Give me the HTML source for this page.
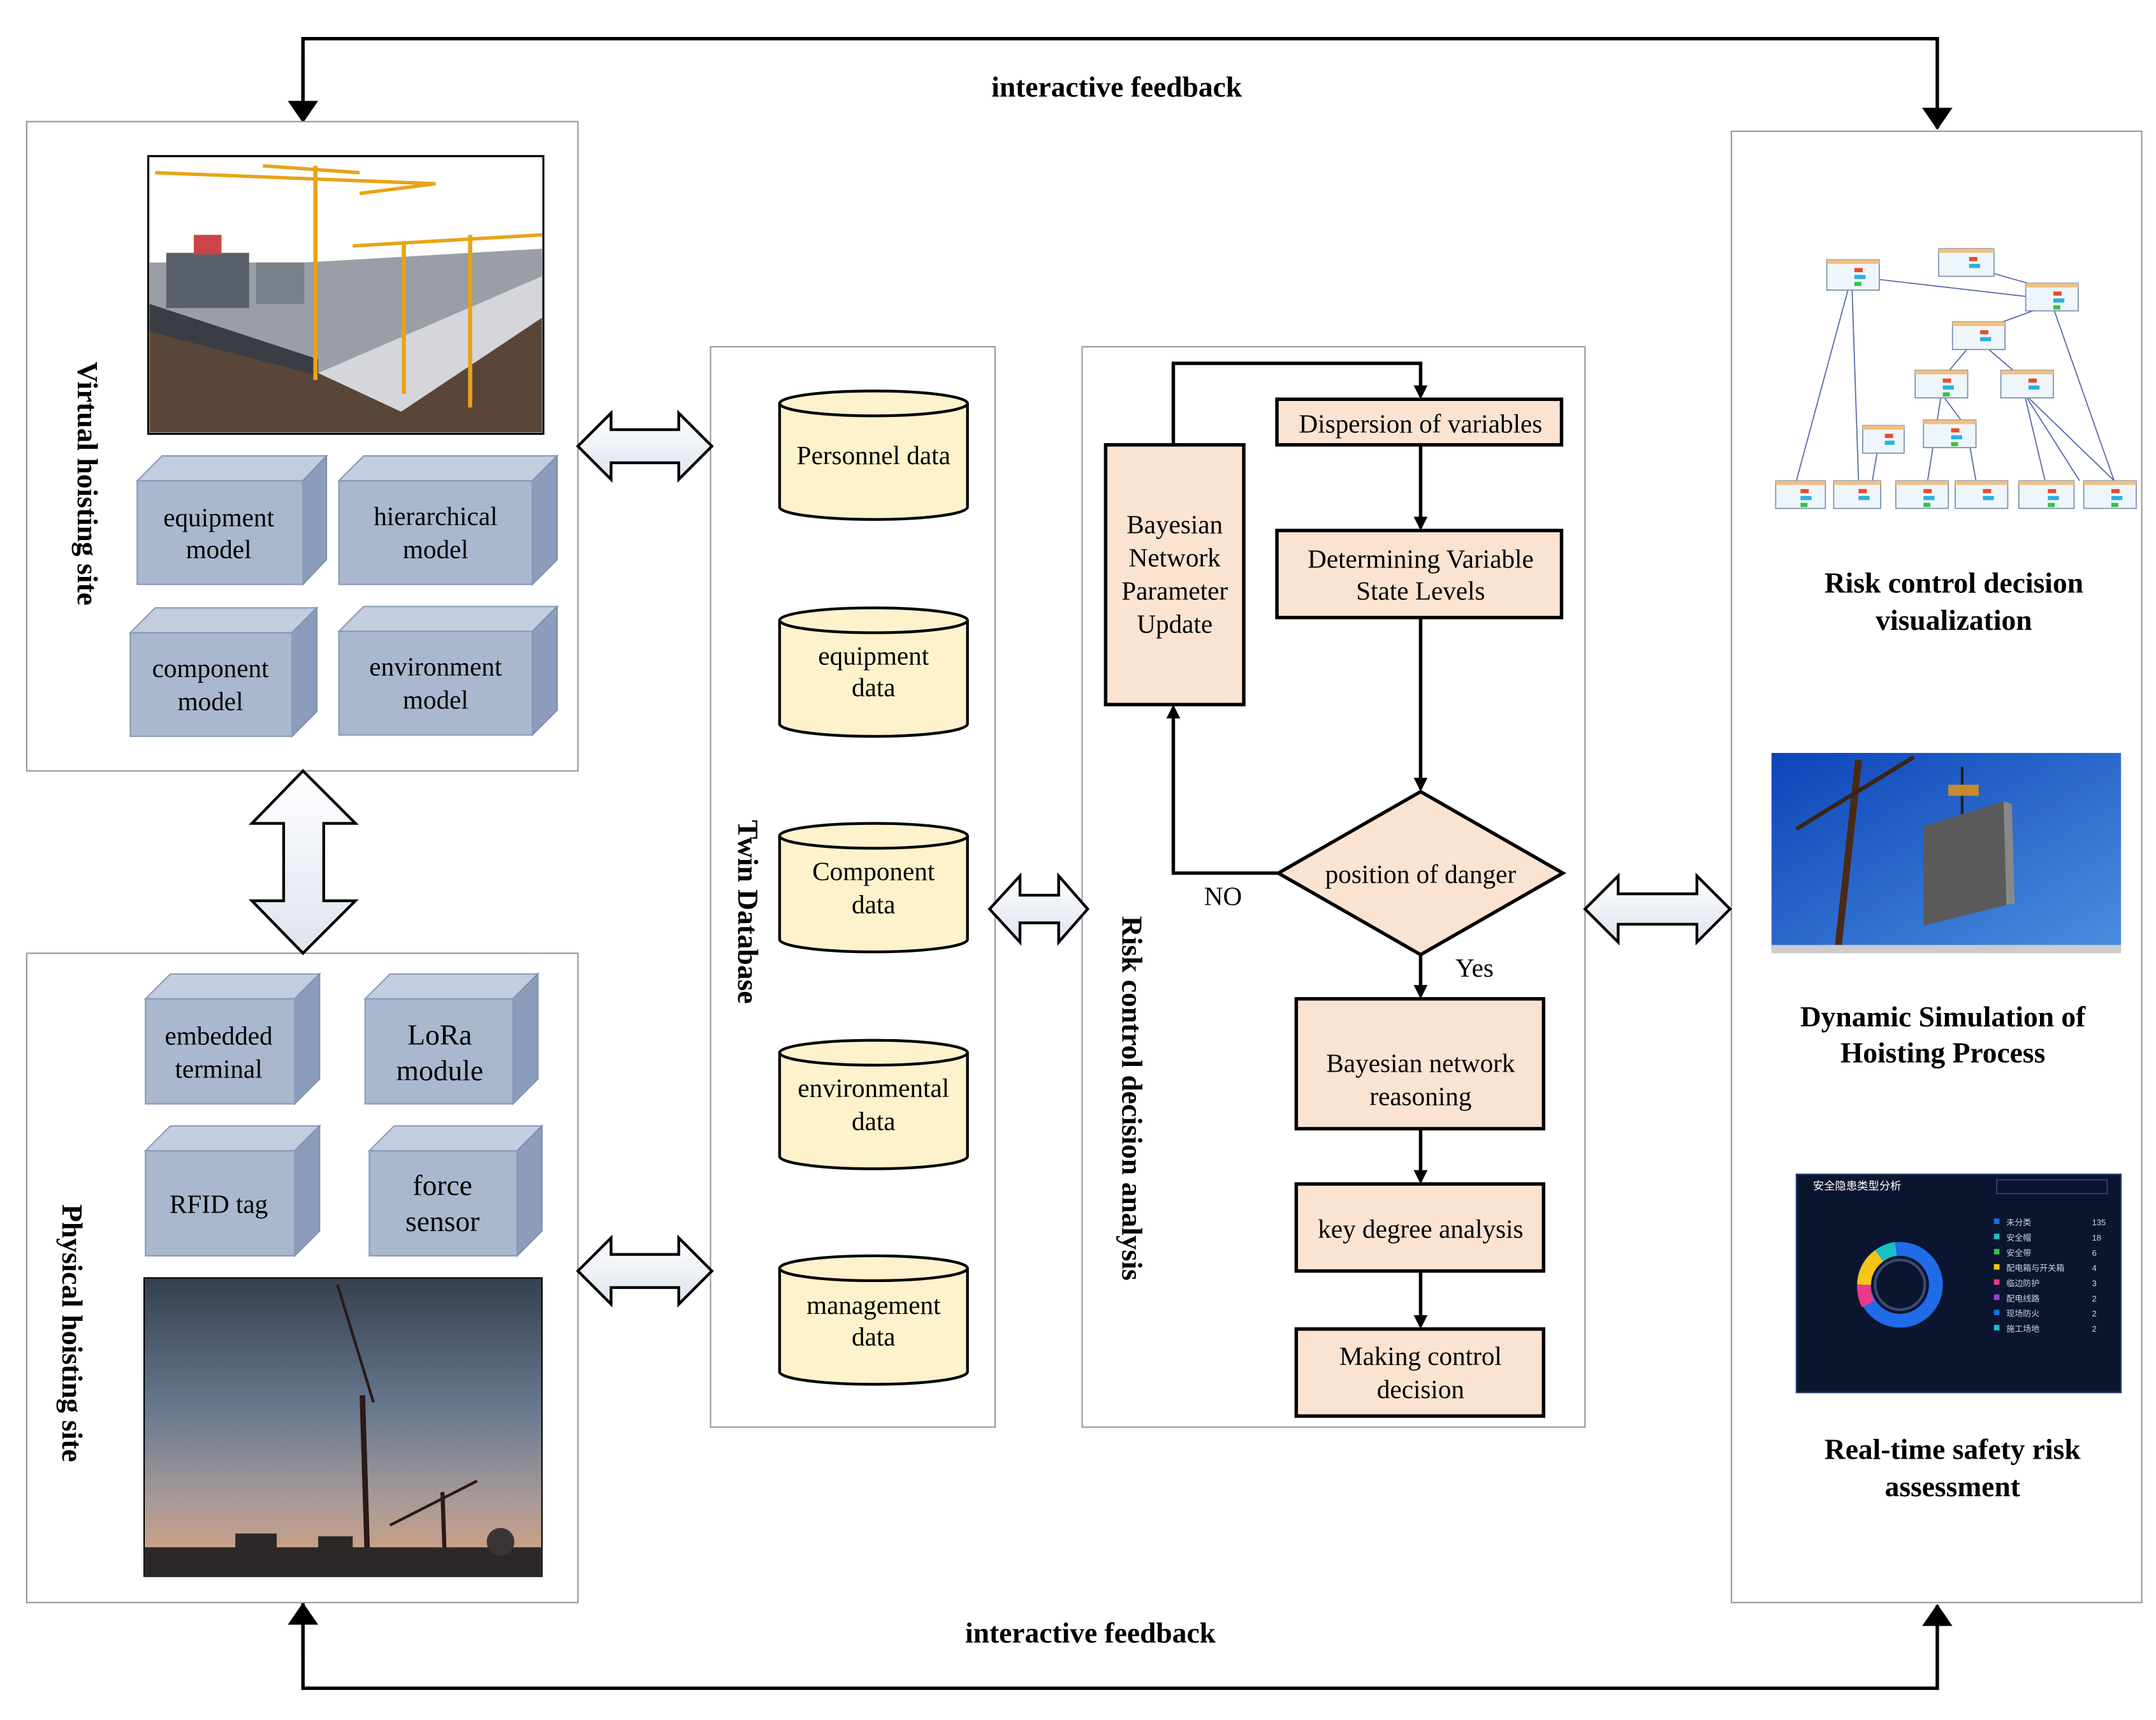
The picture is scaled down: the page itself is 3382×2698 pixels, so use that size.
<!DOCTYPE html>
<html><head><meta charset="utf-8"><style>html,body{margin:0;padding:0;background:#fff}svg{display:block}</style></head>
<body>
<svg xmlns="http://www.w3.org/2000/svg" width="3382" height="2698" viewBox="0 0 1560 1245" font-family="'Liberation Serif', serif">
<defs>
<marker id="ah" markerWidth="10" markerHeight="10" refX="8" refY="5" orient="auto" markerUnits="userSpaceOnUse"><path d="M0,0 L10,5 L0,10 z" fill="#000"/></marker>
<marker id="ab" markerWidth="16" markerHeight="22" refX="15" refY="11" orient="auto" markerUnits="userSpaceOnUse"><path d="M0,0 L16,11 L0,22 z" fill="#000"/></marker>
<linearGradient id="arr" x1="0" y1="0" x2="0" y2="1"><stop offset="0" stop-color="#fff"/><stop offset="1" stop-color="#dde3ee"/></linearGradient>
<linearGradient id="sky1" x1="0" y1="0" x2="0" y2="1"><stop offset="0" stop-color="#34404f"/><stop offset="0.45" stop-color="#6a7a90"/><stop offset="0.75" stop-color="#a99a98"/><stop offset="0.9" stop-color="#c8a088"/><stop offset="1" stop-color="#3a3232"/></linearGradient>
<linearGradient id="sky2" x1="0" y1="0" x2="1" y2="1"><stop offset="0" stop-color="#0c45b8"/><stop offset="1" stop-color="#4a8ee0"/></linearGradient>
</defs>

<g stroke="#000" stroke-width="2.5" fill="none">
<polyline points="219,88 219,28 1402,28 1402,93" marker-end="url(#ab)"/>
<line x1="219" y1="40" x2="219" y2="88" marker-end="url(#ab)"/>
<polyline points="219,1160 219,1222 1402,1222 1402,1162" marker-end="url(#ab)"/>
<line x1="219" y1="1200" x2="219" y2="1161" marker-end="url(#ab)"/>
</g>
<text x="808" y="70" font-size="21" font-weight="bold" text-anchor="middle">interactive feedback</text>
<text x="789" y="1189" font-size="21" font-weight="bold" text-anchor="middle">interactive feedback</text>

<g fill="#fff" stroke="#999" stroke-width="1">
<rect x="19" y="88" width="399" height="470"/>
<rect x="19" y="690" width="399" height="470"/>
<rect x="514" y="251" width="206" height="782"/>
<rect x="783" y="251" width="364" height="782"/>
<rect x="1253" y="95" width="297" height="1065"/>
</g>

<!-- virtual site image -->
<rect x="107" y="113" width="286" height="201" fill="#fff" stroke="#000" stroke-width="1.5"/>
<polygon points="108,235 230,270 392,200 392,313 108,313" fill="#5a4638"/>
<polygon points="108,190 220,190 392,180 392,200 230,270 108,235" fill="#9a9ea6"/>
<polygon points="230,270 392,200 392,230 290,298" fill="#d4d6da"/>
<polygon points="108,220 230,260 230,272 108,240" fill="#3a3e44"/>
<rect x="120" y="183" width="60" height="40" fill="#5a606a"/>
<rect x="185" y="190" width="35" height="30" fill="#7a808a"/>
<rect x="140" y="170" width="20" height="14" fill="#c44"/>
<g stroke="#e8a317" stroke-width="3"><line x1="228" y1="120" x2="228" y2="275"/><line x1="340" y1="170" x2="340" y2="295"/><line x1="292" y1="175" x2="292" y2="285"/></g>
<g stroke="#e8a317" stroke-width="2.5"><line x1="112" y1="125" x2="315" y2="133"/><line x1="255" y1="178" x2="392" y2="170"/><line x1="190" y1="120" x2="260" y2="125"/><line x1="260" y1="140" x2="315" y2="133"/></g>

<g font-size="19" text-anchor="middle">
<g><polygon points="99,348 117,330 236,330 219,348" fill="#c3cde0" stroke="#8a9bb9"/><polygon points="219,348 236,330 236,405 219,423" fill="#8c9dbb" stroke="#7f90af"/><rect x="99" y="348" width="120" height="75" fill="#a9b7cf" stroke="#8a9bb9"/><text x="158" y="381">equipment</text><text x="158" y="404">model</text></g>
<g><polygon points="245,348 263,330 403,330 385,348" fill="#c3cde0" stroke="#8a9bb9"/><polygon points="385,348 403,330 403,405 385,423" fill="#8c9dbb" stroke="#7f90af"/><rect x="245" y="348" width="140" height="75" fill="#a9b7cf" stroke="#8a9bb9"/><text x="315" y="380">hierarchical</text><text x="315" y="404">model</text></g>
<g><polygon points="94,458 112,440 229,440 211,458" fill="#c3cde0" stroke="#8a9bb9"/><polygon points="211,458 229,440 229,515 211,533" fill="#8c9dbb" stroke="#7f90af"/><rect x="94" y="458" width="117" height="75" fill="#a9b7cf" stroke="#8a9bb9"/><text x="152" y="490">component</text><text x="152" y="514">model</text></g>
<g><polygon points="245,457 263,439 403,439 385,457" fill="#c3cde0" stroke="#8a9bb9"/><polygon points="385,457 403,439 403,514 385,532" fill="#8c9dbb" stroke="#7f90af"/><rect x="245" y="457" width="140" height="75" fill="#a9b7cf" stroke="#8a9bb9"/><text x="315" y="489">environment</text><text x="315" y="513">model</text></g>
<g><polygon points="105,723 123,705 231,705 213,723" fill="#c3cde0" stroke="#8a9bb9"/><polygon points="213,723 231,705 231,781 213,799" fill="#8c9dbb" stroke="#7f90af"/><rect x="105" y="723" width="108" height="76" fill="#a9b7cf" stroke="#8a9bb9"/><text x="158" y="756">embedded</text><text x="158" y="780">terminal</text></g>
<g><polygon points="264,723 282,705 389,705 371,723" fill="#c3cde0" stroke="#8a9bb9"/><polygon points="371,723 389,705 389,781 371,799" fill="#8c9dbb" stroke="#7f90af"/><rect x="264" y="723" width="107" height="76" fill="#a9b7cf" stroke="#8a9bb9"/><text x="318" y="756" font-size="21">LoRa</text><text x="318" y="782" font-size="21">module</text></g>
<g><polygon points="105,833 123,815 231,815 213,833" fill="#c3cde0" stroke="#8a9bb9"/><polygon points="213,833 231,815 231,891 213,909" fill="#8c9dbb" stroke="#7f90af"/><rect x="105" y="833" width="108" height="76" fill="#a9b7cf" stroke="#8a9bb9"/><text x="158" y="878">RFID tag</text></g>
<g><polygon points="267,833 285,815 392,815 374,833" fill="#c3cde0" stroke="#8a9bb9"/><polygon points="374,833 392,815 392,891 374,909" fill="#8c9dbb" stroke="#7f90af"/><rect x="267" y="833" width="107" height="76" fill="#a9b7cf" stroke="#8a9bb9"/><text x="320" y="865" font-size="21">force</text><text x="320" y="891" font-size="21">sensor</text></g>
</g>

<!-- physical photo -->
<rect x="104" y="925" width="288" height="216" fill="url(#sky1)" stroke="#000"/>
<g stroke="#2a1a18" fill="none">
<line x1="262" y1="1010" x2="266" y2="1140" stroke-width="4"/><line x1="244" y1="930" x2="270" y2="1015" stroke-width="2"/>
<line x1="320" y1="1080" x2="322" y2="1140" stroke-width="3"/><line x1="282" y1="1104" x2="345" y2="1072" stroke-width="2"/>
</g>
<rect x="104" y="1120" width="288" height="21" fill="#2d2828"/>
<rect x="170" y="1110" width="30" height="12" fill="#2d2828"/><rect x="230" y="1112" width="25" height="10" fill="#2d2828"/>
<circle cx="362" cy="1116" r="10" fill="#3a3535"/>

<g font-size="21" font-weight="bold" text-anchor="middle">
<text transform="translate(56,350) rotate(90)">Virtual hoisting site</text>
<text transform="translate(45,965) rotate(90)">Physical hoisting site</text>
<text transform="translate(534,660) rotate(90)">Twin Database</text>
<text transform="translate(812,795) rotate(90)">Risk control decision analysis</text>
</g>

<g fill="url(#arr)" stroke="#000" stroke-width="2">
<polygon points="418,323 442,299 442,311 491,311 491,299 515,323 491,347 491,335 442,335 442,347"/>
<polygon points="418,920 442,896 442,908 491,908 491,896 515,920 491,944 491,932 442,932 442,944"/>
<polygon points="716,658 738,634 738,648 766,648 766,634 787,658 766,682 766,668 738,668 738,682"/>
<polygon points="1147,658 1171,634 1171,647 1228,647 1228,634 1252,658 1228,682 1228,669 1171,669 1171,682"/>
<polygon points="219,558 257,596 234,596 234,652 257,652 219,690 182,652 205,652 205,596 182,596"/>
</g>

<g fill="#fdf2cb" stroke="#000" stroke-width="2" font-size="19" text-anchor="middle">
<g><path d="M564,292 L564,367 A68,9 0 0 0 700,367 L700,292"/><ellipse cx="632" cy="292" rx="68" ry="9"/><text x="632" y="336" stroke="none" fill="#000">Personnel data</text></g>
<g><path d="M564,449 L564,524 A68,9 0 0 0 700,524 L700,449"/><ellipse cx="632" cy="449" rx="68" ry="9"/><text x="632" y="481" stroke="none" fill="#000">equipment</text><text x="632" y="504" stroke="none" fill="#000">data</text></g>
<g><path d="M564,605 L564,680 A68,9 0 0 0 700,680 L700,605"/><ellipse cx="632" cy="605" rx="68" ry="9"/><text x="632" y="637" stroke="none" fill="#000">Component</text><text x="632" y="661" stroke="none" fill="#000">data</text></g>
<g><path d="M564,762 L564,837 A68,9 0 0 0 700,837 L700,762"/><ellipse cx="632" cy="762" rx="68" ry="9"/><text x="632" y="794" stroke="none" fill="#000">environmental</text><text x="632" y="818" stroke="none" fill="#000">data</text></g>
<g><path d="M564,918 L564,993 A68,9 0 0 0 700,993 L700,918"/><ellipse cx="632" cy="918" rx="68" ry="9"/><text x="632" y="951" stroke="none" fill="#000">management</text><text x="632" y="974" stroke="none" fill="#000">data</text></g>
</g>

<g fill="#fbe3d1" stroke="#000" stroke-width="2.5">
<rect x="800" y="322" width="100" height="188"/>
<rect x="924" y="289" width="206" height="33"/>
<rect x="924" y="384" width="206" height="63"/>
<polygon points="1028,573 1131,632 1028,691 925,632"/>
<rect x="938" y="723" width="179" height="94"/>
<rect x="938" y="857" width="179" height="63"/>
<rect x="938" y="962" width="179" height="63"/>
</g>
<g stroke="#000" stroke-width="2.5" fill="none">
<polyline points="849,322 849,263 1028,263 1028,287" marker-end="url(#ah)"/>
<line x1="1028" y1="322" x2="1028" y2="382" marker-end="url(#ah)"/>
<line x1="1028" y1="447" x2="1028" y2="571" marker-end="url(#ah)"/>
<polyline points="925,632 849,632 849,512" marker-end="url(#ah)"/>
<line x1="1028" y1="691" x2="1028" y2="721" marker-end="url(#ah)"/>
<line x1="1028" y1="817" x2="1028" y2="855" marker-end="url(#ah)"/>
<line x1="1028" y1="920" x2="1028" y2="960" marker-end="url(#ah)"/>
</g>
<g font-size="19" text-anchor="middle">
<text x="850" y="386">Bayesian</text><text x="850" y="410">Network</text><text x="850" y="434">Parameter</text><text x="850" y="458">Update</text>
<text x="1028" y="313">Dispersion of variables</text>
<text x="1028" y="411">Determining Variable</text><text x="1028" y="434">State Levels</text>
<text x="1028" y="639">position of danger</text>
<text x="885" y="655">NO</text><text x="1067" y="707">Yes</text>
<text x="1028" y="776">Bayesian network</text><text x="1028" y="800">reasoning</text>
<text x="1028" y="896">key degree analysis</text>
<text x="1028" y="988">Making control</text><text x="1028" y="1012">decision</text>
</g>

<!-- BN diagram -->
<g stroke="#5566aa" stroke-width="0.8" fill="none">
<line x1="1340" y1="200" x2="1300" y2="348"/><line x1="1340" y1="200" x2="1345" y2="348"/><line x1="1340" y1="200" x2="1470" y2="215"/>
<line x1="1422" y1="192" x2="1485" y2="210"/><line x1="1485" y1="220" x2="1430" y2="240"/><line x1="1485" y1="220" x2="1530" y2="348"/>
<line x1="1430" y1="245" x2="1405" y2="275"/><line x1="1430" y1="245" x2="1465" y2="275"/><line x1="1405" y1="285" x2="1395" y2="348"/>
<line x1="1465" y1="285" x2="1480" y2="348"/><line x1="1405" y1="285" x2="1425" y2="312"/><line x1="1425" y1="320" x2="1430" y2="348"/>
<line x1="1360" y1="318" x2="1355" y2="348"/><line x1="1465" y1="285" x2="1505" y2="348"/><line x1="1465" y1="285" x2="1530" y2="348"/>
</g>
<g fill="#eef6fb" stroke="#7a8fb0" stroke-width="0.8">
<rect x="1322" y="188" width="38" height="22"/><rect x="1403" y="180" width="40" height="20"/><rect x="1466" y="205" width="38" height="20"/>
<rect x="1413" y="233" width="38" height="20"/><rect x="1386" y="268" width="38" height="20"/><rect x="1448" y="268" width="38" height="20"/>
<rect x="1348" y="308" width="30" height="20"/><rect x="1392" y="304" width="38" height="20"/>
<rect x="1285" y="348" width="36" height="20"/><rect x="1327" y="348" width="34" height="20"/><rect x="1372" y="348" width="38" height="20"/>
<rect x="1415" y="348" width="38" height="20"/><rect x="1461" y="348" width="40" height="20"/><rect x="1508" y="348" width="38" height="20"/>
</g>
<g>
<g fill="#f0c080"><rect x="1322" y="188" width="38" height="3"/><rect x="1403" y="180" width="40" height="3"/><rect x="1466" y="205" width="38" height="3"/><rect x="1413" y="233" width="38" height="3"/><rect x="1386" y="268" width="38" height="3"/><rect x="1448" y="268" width="38" height="3"/><rect x="1348" y="308" width="30" height="3"/><rect x="1392" y="304" width="38" height="3"/><rect x="1285" y="348" width="36" height="3"/><rect x="1327" y="348" width="34" height="3"/><rect x="1372" y="348" width="38" height="3"/><rect x="1415" y="348" width="38" height="3"/><rect x="1461" y="348" width="40" height="3"/><rect x="1508" y="348" width="38" height="3"/></g>
<g fill="#e84a2a"><rect x="1342" y="194" width="6" height="3"/><rect x="1425" y="186" width="6" height="3"/><rect x="1486" y="211" width="6" height="3"/><rect x="1433" y="239" width="6" height="3"/><rect x="1406" y="274" width="6" height="3"/><rect x="1468" y="274" width="6" height="3"/><rect x="1364" y="314" width="6" height="3"/><rect x="1412" y="310" width="6" height="3"/><rect x="1303" y="354" width="6" height="3"/><rect x="1345" y="354" width="6" height="3"/><rect x="1392" y="354" width="6" height="3"/><rect x="1435" y="354" width="6" height="3"/><rect x="1482" y="354" width="6" height="3"/><rect x="1528" y="354" width="6" height="3"/></g>
<g fill="#2ab0e0"><rect x="1342" y="199" width="8" height="3"/><rect x="1425" y="191" width="8" height="3"/><rect x="1486" y="216" width="8" height="3"/><rect x="1433" y="244" width="8" height="3"/><rect x="1406" y="279" width="8" height="3"/><rect x="1468" y="279" width="8" height="3"/><rect x="1364" y="319" width="7" height="3"/><rect x="1412" y="315" width="8" height="3"/><rect x="1303" y="359" width="8" height="3"/><rect x="1345" y="359" width="8" height="3"/><rect x="1392" y="359" width="8" height="3"/><rect x="1435" y="359" width="8" height="3"/><rect x="1482" y="359" width="8" height="3"/><rect x="1528" y="359" width="8" height="3"/></g>
<g fill="#3ac040"><rect x="1342" y="204" width="5" height="3"/><rect x="1486" y="221" width="5" height="3"/><rect x="1406" y="284" width="5" height="3"/><rect x="1412" y="320" width="5" height="3"/><rect x="1303" y="364" width="5" height="3"/><rect x="1392" y="364" width="5" height="3"/><rect x="1482" y="364" width="5" height="3"/><rect x="1528" y="364" width="5" height="3"/></g>
</g>

<!-- blue sky photo -->
<rect x="1282" y="545" width="253" height="143" fill="url(#sky2)"/>
<g stroke="#4a2a14" stroke-width="5"><line x1="1330" y1="688" x2="1345" y2="550"/></g>
<g stroke="#3a2414" stroke-width="3"><line x1="1300" y1="600" x2="1385" y2="548"/></g>
<line x1="1420" y1="555" x2="1420" y2="590" stroke="#222" stroke-width="2"/>
<rect x="1410" y="568" width="22" height="8" fill="#c88a30"/>
<polygon points="1392,598 1450,580 1452,655 1392,670" fill="#5a5a5a"/>
<polygon points="1450,580 1456,582 1458,654 1452,655" fill="#888"/>
<rect x="1282" y="684" width="253" height="6" fill="#ccc"/>

<!-- dashboard -->
<rect x="1300" y="850" width="235" height="158" fill="#0b1530" stroke="#2c3e6a"/>
<text x="1312" y="861" font-size="8" fill="#fff" font-family="'Liberation Sans','Noto Sans CJK SC',sans-serif">安全隐患类型分析</text>
<rect x="1445" y="854" width="80" height="10" fill="none" stroke="#2c3e6a"/>
<circle cx="1375" cy="930" r="26" fill="none" stroke="#1f6be8" stroke-width="10"/>
<circle cx="1375" cy="930" r="18" fill="none" stroke="#3a4a70" stroke-width="2"/>
<path d="M1349,930 A26,26 0 0 1 1360,909" stroke="#f5c518" stroke-width="10" fill="none"/>
<path d="M1360,909 A26,26 0 0 1 1372,904" stroke="#17c1c6" stroke-width="10" fill="none"/>
<path d="M1352,944 A26,26 0 0 1 1349,930" stroke="#e83a8a" stroke-width="10" fill="none"/>
<g fill="#1f6be8"><rect x="1443" y="882" width="4" height="4"/><rect x="1443" y="893" width="4" height="4" fill="#17c1c6"/><rect x="1443" y="904" width="4" height="4" fill="#3ac040"/><rect x="1443" y="915" width="4" height="4" fill="#f5c518"/><rect x="1443" y="926" width="4" height="4" fill="#e83a8a"/><rect x="1443" y="937" width="4" height="4" fill="#a040e0"/><rect x="1443" y="948" width="4" height="4"/><rect x="1443" y="959" width="4" height="4" fill="#17c1c6"/></g>
<g fill="#c7d3ee" font-size="6" font-family="'Liberation Sans','Noto Sans CJK SC',sans-serif">
<text x="1452" y="887">未分类</text><text x="1452" y="898">安全帽</text><text x="1452" y="909">安全带</text><text x="1452" y="920">配电箱与开关箱</text>
<text x="1452" y="931">临边防护</text><text x="1452" y="942">配电线路</text><text x="1452" y="953">现场防火</text><text x="1452" y="964">施工场地</text>
<text x="1514" y="887">135</text><text x="1514" y="898">18</text><text x="1514" y="909">6</text><text x="1514" y="920">4</text><text x="1514" y="931">3</text><text x="1514" y="942">2</text><text x="1514" y="953">2</text><text x="1514" y="964">2</text>
</g>

<g font-size="21" font-weight="bold" text-anchor="middle">
<text x="1414" y="429">Risk control decision</text><text x="1414" y="456">visualization</text>
<text x="1406" y="743">Dynamic Simulation of</text><text x="1406" y="769">Hoisting Process</text>
<text x="1413" y="1056">Real-time safety risk</text><text x="1413" y="1083">assessment</text>
</g>
</svg>
</body></html>
